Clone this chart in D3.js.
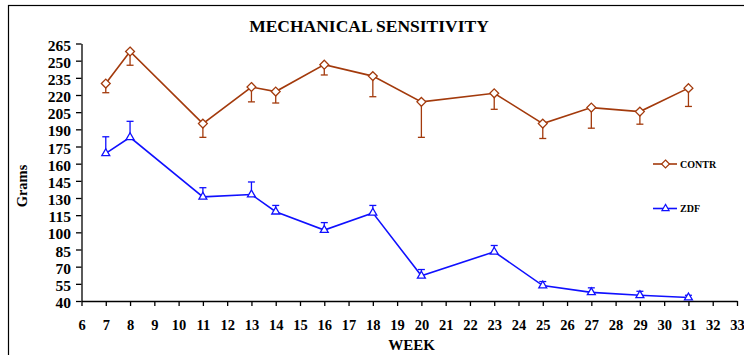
<!DOCTYPE html>
<html>
<head>
<meta charset="utf-8">
<script src="https://cdn.jsdelivr.net/npm/d3@7"></script>
<style>
  html, body { margin: 0; padding: 0; background: #fff; }
  svg { display: block; }
  text { font-family: "Liberation Serif", "Times New Roman", serif; font-weight: bold; fill: #000; }
</style>
</head>
<body>
<svg id="chart" width="744" height="355"></svg>
<script>
// Week numbers at which sensitivity was measured
const weeks = [7, 8, 11, 13, 14, 16, 18, 20, 23, 25, 27, 29, 31];
// Control group mean withdrawal threshold (grams) and its error (drawn below the mean)
const contr = [230, 258, 195, 227, 223, 246.5, 236.5, 214, 221.5, 195, 209, 205.5, 226];
const contrErr = [8, 12, 12, 13, 10, 9, 18, 31, 14, 13, 18, 11, 16];
// ZDF group mean threshold (grams) and its error (drawn above the mean)
const zdf = [169, 183, 131, 133, 118, 102, 117, 62, 83, 53.5, 47.5, 45, 43];
const zdfErr = [14.5, 14, 8, 11, 5.5, 6.5, 6.5, 5.5, 5.5, 3.5, 4, 3.5, 2];
// Axis tick values
const xTicks = d3.range(6, 34);
const yTicks = d3.range(40, 266, 15);

const CONTR_COLOR = "#a33a0c";
const ZDF_COLOR = "#1010ff";

const svg = d3.select("#chart");

// outer frame
svg.append("rect")
  .attr("x", 8.5).attr("y", 5.5)
  .attr("width", 800).attr("height", 400)
  .attr("fill", "none").attr("stroke", "#000").attr("stroke-width", 1.2);

const x = d3.scaleLinear().domain([6, 33]).range([81.5, 737]);
const y = d3.scaleLinear().domain([40, 265]).range([301, 43.5]);

// axes
const xAxis = svg.append("g")
  .attr("transform", `translate(0,${y(40)})`)
  .call(d3.axisBottom(x).tickValues(xTicks).tickSize(5).tickSizeOuter(0).tickPadding(14).tickFormat(d3.format("d")));
xAxis.selectAll("text").attr("font-size", 14.5).attr("font-family", null);

const yAxis = svg.append("g")
  .attr("transform", `translate(${x(6)},0)`)
  .call(d3.axisLeft(y).tickValues(yTicks).tickSize(5.5).tickSizeOuter(0).tickPadding(5).tickFormat(d3.format("d")));
yAxis.selectAll("text").attr("font-size", 15.5).attr("dy", "0.42em").attr("font-family", null);

[xAxis, yAxis].forEach(g => {
  g.attr("font-family", null).attr("font-size", null);
  g.selectAll("path, line").attr("stroke", "#000").attr("stroke-width", 1.3);
});

// title and axis titles
svg.append("text").attr("x", 369).attr("y", 31.5).attr("text-anchor", "middle")
  .attr("font-size", 17.5).text("MECHANICAL SENSITIVITY");
svg.append("text").attr("x", 411.5).attr("y", 350).attr("text-anchor", "middle")
  .attr("font-size", 15).text("WEEK");
svg.append("text").attr("transform", "translate(27,186) rotate(-90)").attr("text-anchor", "middle")
  .attr("font-size", 14.5).text("Grams");

function drawSeries(vals, errs, dir, color, symbolType, size) {
  const g = svg.append("g");
  const pts = weeks.map((w, i) => ({ w, v: vals[i], e: errs[i] }));
  // error bars
  const eb = g.selectAll("g.err").data(pts).join("g").attr("class", "err");
  eb.append("line")
    .attr("x1", d => x(d.w)).attr("x2", d => x(d.w))
    .attr("y1", d => y(d.v)).attr("y2", d => y(d.v + dir * d.e))
    .attr("stroke", color).attr("stroke-width", 1.3);
  eb.append("line")
    .attr("x1", d => x(d.w) - 3.5).attr("x2", d => x(d.w) + 3.5)
    .attr("y1", d => y(d.v + dir * d.e)).attr("y2", d => y(d.v + dir * d.e))
    .attr("stroke", color).attr("stroke-width", 1.3);
  // connecting line
  g.append("path").datum(pts)
    .attr("d", d3.line().x(d => x(d.w)).y(d => y(d.v)))
    .attr("fill", "none").attr("stroke", color).attr("stroke-width", 1.6);
  // markers
  g.selectAll("path.mk").data(pts).join("path").attr("class", "mk")
    .attr("transform", d => `translate(${x(d.w)},${y(d.v)})`)
    .attr("d", d3.symbol().type(symbolType).size(size))
    .attr("fill", "#fff").attr("stroke", color).attr("stroke-width", 1.3);
}

drawSeries(contr, contrErr, -1, CONTR_COLOR, d3.symbolDiamond2, 50);
drawSeries(zdf, zdfErr, 1, ZDF_COLOR, d3.symbolTriangle2, 45);

// legend
const legend = [
  { name: "CONTR", color: CONTR_COLOR, sym: d3.symbolDiamond2, size: 40, y: 164 },
  { name: "ZDF", color: ZDF_COLOR, sym: d3.symbolTriangle2, size: 36, y: 208.5 }
];
const lg = svg.append("g").selectAll("g").data(legend).join("g")
  .attr("transform", d => `translate(0,${d.y})`);
lg.append("line").attr("x1", 653).attr("x2", 677).attr("y1", 0).attr("y2", 0)
  .attr("stroke", d => d.color).attr("stroke-width", 1.6);
lg.append("path").attr("transform", "translate(665.5,0)")
  .attr("d", d => d3.symbol().type(d.sym).size(d.size)())
  .attr("fill", "#fff").attr("stroke", d => d.color).attr("stroke-width", 1.2);
lg.append("text").attr("x", 680).attr("y", 3.5).attr("font-size", 10)
  .text(d => d.name);
</script>
</body>
</html>
